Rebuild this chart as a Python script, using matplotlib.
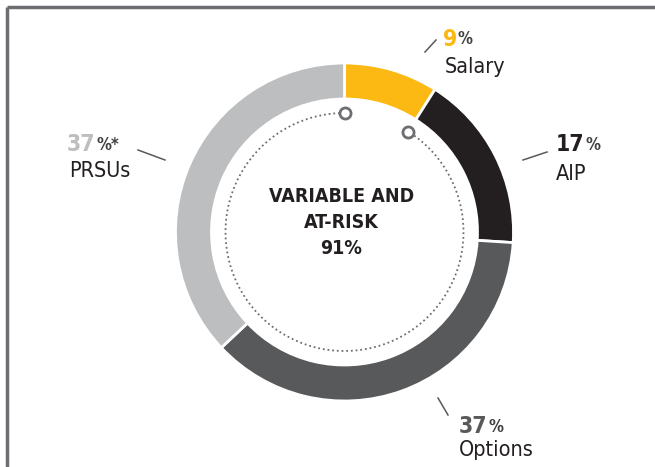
import numpy as np
import matplotlib.pyplot as plt

# data
labels = ['Salary', 'AIP', 'Options', 'PRSUs']
values = [9, 17, 37, 37]
pct_text = ['9', '17', '37', '37']
pct_suffix = ['%', '%', '%', '%*']
colors = ['#FDB913', '#231F20', '#58595B', '#BCBEC0']
num_colors = ['#FDB913', '#231F20', '#58595B', '#BCBEC0']
center_lines = ['VARIABLE AND', 'AT-RISK', '91%']

W, H = 655, 467
fig = plt.figure(figsize=(W / 100, H / 100), dpi=100)
ax = fig.add_axes([0, 0, 1, 1])

plt.rcParams['font.family'] = ['DejaVu Sans']
plt.rcParams['font.stretch'] = 'condensed'

cx, cy = 344.5, H - 232
r_out = 169
ring = 36

ax.pie(values, colors=colors, startangle=90, counterclock=False,
       center=(cx, cy), radius=r_out,
       wedgeprops=dict(width=ring, edgecolor='white', linewidth=2))

ax.set_xlim(0, W)
ax.set_ylim(0, H)
ax.set_aspect('equal')
ax.axis('off')

# frame (top and left)
ax.plot([7, W], [H - 7, H - 7], color='#6D6E71', lw=2.5, solid_capstyle='butt')
ax.plot([7, 7], [0, H - 7], color='#6D6E71', lw=2.5, solid_capstyle='butt')

# dotted inner arc from end of salary back round to the top
r_dot = 119
a_start = 90 - 360 * values[0] / sum(values)
th = np.radians(np.linspace(90, a_start + 360, 400))
ax.plot(cx + r_dot * np.cos(th), cy + r_dot * np.sin(th),
        color='#6D6E71', lw=1.3, linestyle=(0, (1, 1.6)))
for a in [90, a_start]:
    ax.plot(cx + r_dot * np.cos(np.radians(a)), cy + r_dot * np.sin(np.radians(a)),
            marker='o', ms=8, mfc='white', mec='#6D6E71', mew=2)

# center text
for i, s in enumerate(center_lines):
    ax.text(cx - 3, H - (197 + 25.5 * i), s, ha='center', va='center',
            fontsize=14, fontweight='bold', color='#231F20')

# labels: number position (left, baseline), name position, leader line
num_pos = [(443, 46), (556, 151), (459, 433), (67, 151)]
name_pos = [(445, 73), (556, 180), (459, 456), (69, 177)]
leaders = [((425, 52), (436, 40)), ((523, 160), (547, 152)),
           ((438, 398), (448, 415)), ((138, 150), (165, 160))]

for i in range(len(labels)):
    x, y = num_pos[i]
    t = ax.text(x, H - y, pct_text[i], ha='left', va='baseline',
                fontsize=16.5, fontweight='bold', color=num_colors[i])
    ax.annotate(pct_suffix[i], xy=(1, 0), xycoords=t, xytext=(0.3, 1.8),
                textcoords='offset points', ha='left', va='bottom',
                fontsize=12, fontweight='bold', color='#414042')
    nx, ny = name_pos[i]
    ax.text(nx, H - ny, labels[i], ha='left', va='baseline',
            fontsize=15.5, color='#231F20')
    (x0, y0), (x1, y1) = leaders[i]
    ax.plot([x0, x1], [H - y0, H - y1], color='#58595B', lw=1.1)

plt.savefig('out.png', dpi=100)
